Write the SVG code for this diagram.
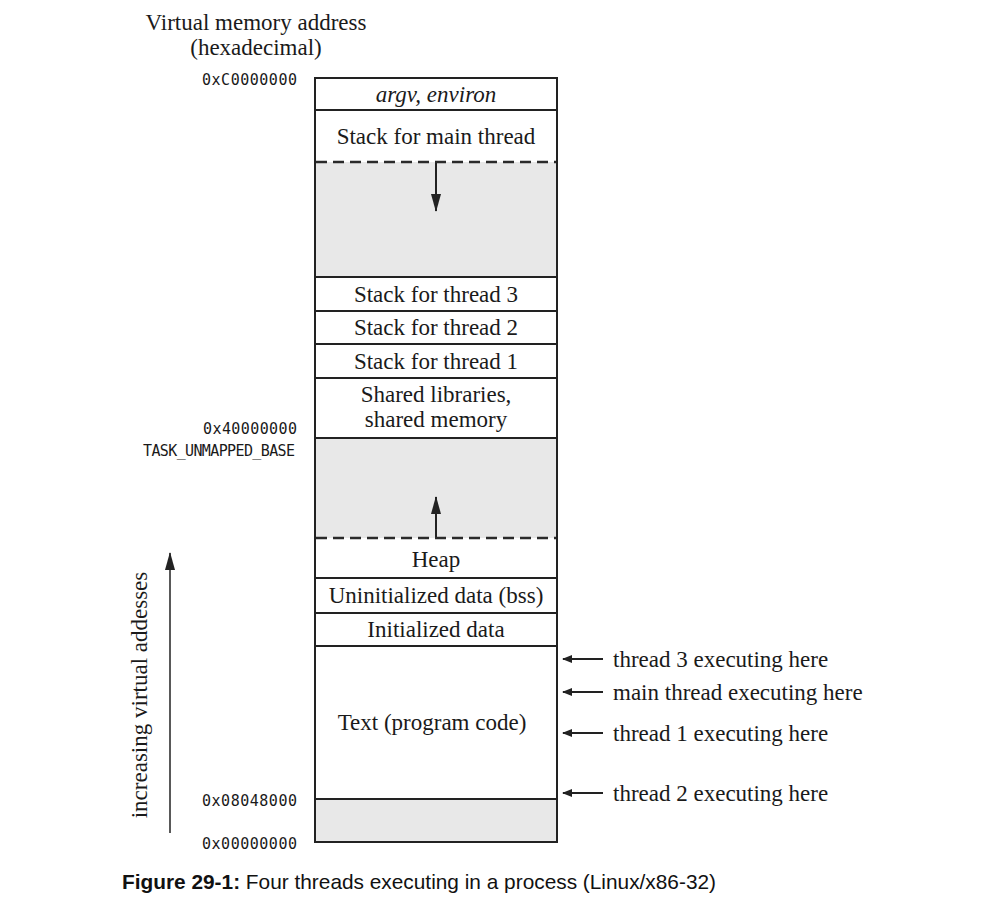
<svg xmlns="http://www.w3.org/2000/svg" width="1004" height="898" viewBox="0 0 1004 898">
<defs>
<style>
.cell{fill:#fff;stroke:none}
.gray{fill:#e8e8e8;stroke:none}
.sep{stroke:#222;stroke-width:2;fill:none}
.box{fill:none;stroke:#222;stroke-width:2}
.t{font-family:"Liberation Serif","Times New Roman",serif;font-size:23px;fill:#1a1a1a;text-anchor:middle}
.lab{font-family:"Liberation Serif","Times New Roman",serif;font-size:23px;fill:#1a1a1a}
.hex{font-family:"DejaVu Sans Mono",monospace;font-size:15px;fill:#1a1a1a;text-anchor:end}
.dash{stroke:#2a2a2a;stroke-width:2.5;stroke-dasharray:11 6;fill:none}
.ln{stroke:#222;stroke-width:2;fill:none}
.cap{font-family:"Liberation Sans",Arial,sans-serif;font-size:21px;fill:#111}
</style>
<marker id="ah" viewBox="0 0 10 10" refX="9" refY="5" markerWidth="10" markerHeight="10" markerUnits="userSpaceOnUse" orient="auto">
<path d="M0,1 L10,5 L0,9 z" fill="#222"/>
</marker>
<marker id="ahb" viewBox="0 0 18 10" refX="17" refY="5" markerWidth="18" markerHeight="10" markerUnits="userSpaceOnUse" orient="auto">
<path d="M0,0 L18,5 L0,10 z" fill="#222"/>
</marker>
</defs>
<rect width="1004" height="898" fill="#fff"/>

<g id="title">
<text class="t" x="256" y="30">Virtual memory address</text>
<text class="t" x="256" y="55">(hexadecimal)</text>
</g>

<g id="addresses">
<text class="hex" x="297" y="85" textLength="95">0xC0000000</text>
<text class="hex" x="297" y="434" textLength="94">0x40000000</text>
<text class="hex" x="295" y="456" textLength="152">TASK_UNMAPPED_BASE</text>
<text class="hex" x="297" y="806" textLength="95">0x08048000</text>
<text class="hex" x="297" y="849" textLength="95">0x00000000</text>
</g>

<g id="seg-argv">
<rect class="cell" x="315" y="78" width="242" height="32"/>
<text class="t" x="436" y="102" font-style="italic">argv, environ</text>
</g>
<g id="seg-main-stack">
<rect class="cell" x="315" y="110" width="242" height="52"/>
<text class="t" x="436" y="144">Stack for main thread</text>
</g>
<g id="seg-gap-top">
<rect class="gray" x="315" y="162" width="242" height="115"/>
</g>
<g id="seg-stack3">
<rect class="cell" x="315" y="277" width="242" height="34"/>
<text class="t" x="436" y="302">Stack for thread 3</text>
</g>
<g id="seg-stack2">
<rect class="cell" x="315" y="311" width="242" height="33"/>
<text class="t" x="436" y="335">Stack for thread 2</text>
</g>
<g id="seg-stack1">
<rect class="cell" x="315" y="344" width="242" height="34"/>
<text class="t" x="436" y="369">Stack for thread 1</text>
</g>
<g id="seg-shared">
<rect class="cell" x="315" y="378" width="242" height="60"/>
<text class="t" x="436" y="402">Shared libraries,</text>
<text class="t" x="436" y="427">shared memory</text>
</g>
<g id="seg-gap-mid">
<rect class="gray" x="315" y="438" width="242" height="100"/>
</g>
<g id="seg-heap">
<rect class="cell" x="315" y="538" width="242" height="40"/>
<text class="t" x="436" y="567">Heap</text>
</g>
<g id="seg-bss">
<rect class="cell" x="315" y="578" width="242" height="35"/>
<text class="t" x="436" y="603">Uninitialized data (bss)</text>
</g>
<g id="seg-data">
<rect class="cell" x="315" y="613" width="242" height="33"/>
<text class="t" x="436" y="637">Initialized data</text>
</g>
<g id="seg-text">
<rect class="cell" x="315" y="646" width="242" height="153"/>
<text class="t" x="432" y="730">Text (program code)</text>
</g>
<g id="seg-gap-bottom">
<rect class="gray" x="315" y="799" width="242" height="43"/>
</g>

<g id="outline">
<rect class="box" x="315" y="78" width="242" height="764"/>
<line class="sep" x1="315" y1="110" x2="557" y2="110"/>
<line class="sep" x1="315" y1="277" x2="557" y2="277"/>
<line class="sep" x1="315" y1="311" x2="557" y2="311"/>
<line class="sep" x1="315" y1="344" x2="557" y2="344"/>
<line class="sep" x1="315" y1="378" x2="557" y2="378"/>
<line class="sep" x1="315" y1="438" x2="557" y2="438"/>
<line class="sep" x1="315" y1="578" x2="557" y2="578"/>
<line class="sep" x1="315" y1="613" x2="557" y2="613"/>
<line class="sep" x1="315" y1="646" x2="557" y2="646"/>
<line class="sep" x1="315" y1="799" x2="557" y2="799"/>
</g>

<g id="connectors">
<line class="dash" x1="316" y1="162" x2="556" y2="162"/>
<line class="dash" x1="316" y1="538" x2="556" y2="538"/>
<line class="ln" x1="436" y1="163" x2="436" y2="211" marker-end="url(#ahb)"/>
<line class="ln" x1="436" y1="537" x2="436" y2="497" marker-end="url(#ahb)"/>
<line class="ln" x1="603" y1="659" x2="563" y2="659" marker-end="url(#ah)"/>
<line class="ln" x1="603" y1="692" x2="563" y2="692" marker-end="url(#ah)"/>
<line class="ln" x1="603" y1="733" x2="563" y2="733" marker-end="url(#ah)"/>
<line class="ln" x1="603" y1="793" x2="563" y2="793" marker-end="url(#ah)"/>
<line x1="170" y1="833" x2="170" y2="553" stroke="#222" stroke-width="1.5" marker-end="url(#ahb)"/>
</g>

<g id="thread-labels">
<text class="lab" x="613" y="667">thread 3 executing here</text>
<text class="lab" x="613" y="700">main thread executing here</text>
<text class="lab" x="613" y="741">thread 1 executing here</text>
<text class="lab" x="613" y="801">thread 2 executing here</text>
</g>

<g id="axis-label">
<text class="t" transform="translate(147,695) rotate(-90)">increasing virtual addesses</text>
</g>

<g id="caption">
<text class="cap" x="122" y="889" textLength="594" lengthAdjust="spacingAndGlyphs"><tspan font-weight="bold">Figure 29-1:</tspan> Four threads executing in a process (Linux/x86-32)</text>
</g>
</svg>
